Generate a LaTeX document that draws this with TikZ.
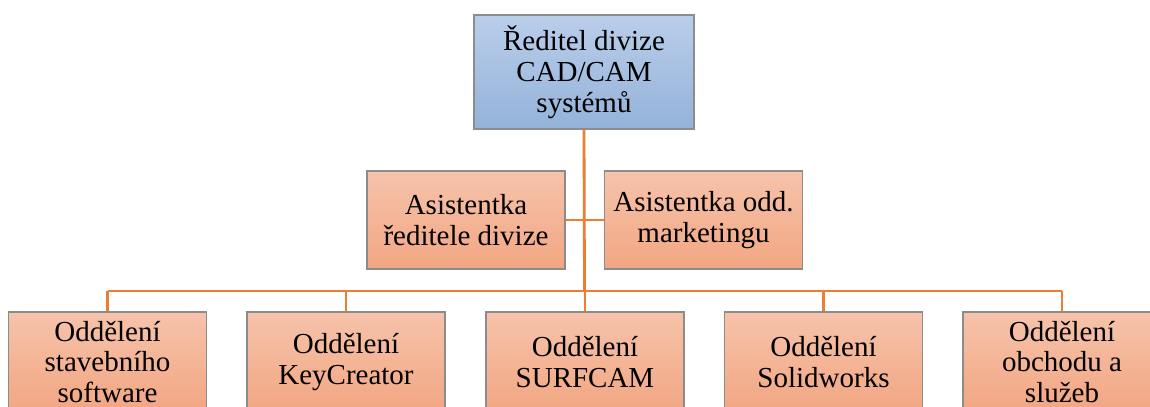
\documentclass[tikz,border=0pt]{standalone}
\usepackage{fontspec}
\setmainfont{Liberation Serif}
\definecolor{linkorange}{HTML}{ED7D31}
\definecolor{frame}{HTML}{8C8C8C}
\definecolor{blueTop}{HTML}{BACEEA}
\definecolor{blueBot}{HTML}{94B2D9}
\definecolor{orangeTop}{HTML}{F6C3AB}
\definecolor{orangeBot}{HTML}{F2A682}
\tikzset{
  unit/.style={draw=frame, line width=0.8pt, align=center, inner sep=2pt,
    font=\fontsize{16.5}{17.6}\selectfont},
  headbox/.style={unit, top color=blueTop, bottom color=blueBot,
    minimum width=4.4cm, minimum height=2.28cm},
  staffbox/.style={unit, top color=orangeTop, bottom color=orangeBot,
    minimum width=3.96cm, minimum height=1.96cm},
  deptbox/.style={unit, top color=orangeTop, bottom color=orangeBot,
    minimum width=3.96cm, minimum height=2.0cm},
  link/.style={draw=linkorange, line width=1.6pt}
}
\begin{document}
\begin{tikzpicture}[x=0.02cm, y=-0.02cm]
\useasboundingbox (0,0) rectangle (1150,406);
\clip (0,0) rectangle (1150,406);

% head of the division
\node[headbox] (head) at (584,72) {Ředitel divize\\CAD/CAM\\systémů};

% assistants
\node[staffbox] (asl) at (466,220) {Asistentka\\ředitele divize};
\node[staffbox] (asr) at (703.5,220) {Asistentka odd.\\marketingu};

% departments
\node[deptbox] (d1) at (107.5,362) {Oddělení\\stavebního\\software};
\node[deptbox] (d2) at (346,362) {Oddělení\\KeyCreator};
\node[deptbox] (d3) at (585,362) {Oddělení\\SURFCAM};
\node[deptbox] (d4) at (823.5,362) {Oddělení\\Solidworks};
\node[deptbox] (d5) at (1062,362) {Oddělení\\obchodu a\\služeb};

% connectors
\coordinate (bus) at (584.5,291);
\draw[link] (head.south) -- (bus);
\draw[link] (asl.east) -- (asr.west);
\draw[link] (d1.north |- bus) -- (d5.north |- bus);
\foreach \d in {d1,d2,d3,d4,d5}
  \draw[link] (\d.north |- bus) -- (\d.north);
\end{tikzpicture}
\end{document}
